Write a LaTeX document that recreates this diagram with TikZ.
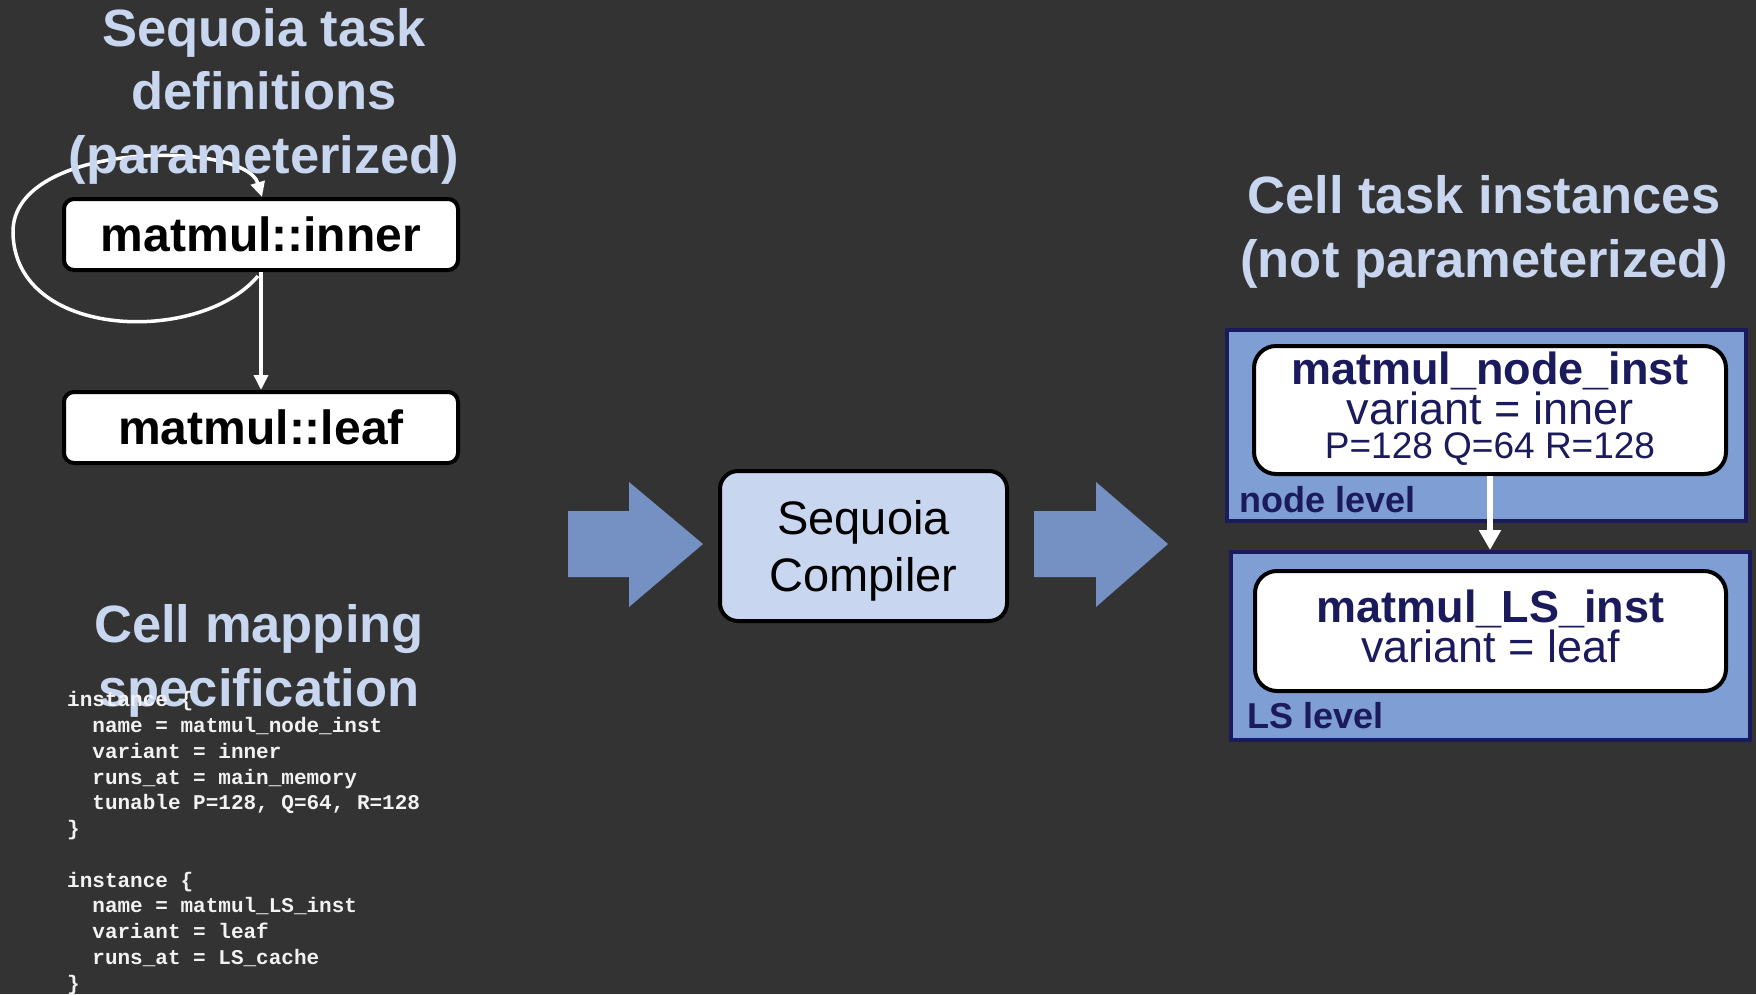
\documentclass[tikz,border=0pt]{standalone}
\usepackage{fontspec}
\setmainfont{Liberation Sans}
\setmonofont{Liberation Mono}
\usetikzlibrary{arrows.meta}
\definecolor{bg}{HTML}{333333}
\definecolor{ttl}{HTML}{C9D6F0}
\definecolor{barrow}{HTML}{7591C3}
\definecolor{lvl}{HTML}{7F9ED4}
\definecolor{navy}{HTML}{1A1A5C}
\definecolor{cmp}{HTML}{C8D6F0}
\definecolor{codec}{HTML}{F2F2F2}
\begin{document}
\begin{tikzpicture}[x=1pt,y=-1pt,
  titletext/.style={font=\fontsize{52.5}{63.5}\selectfont\bfseries, text=ttl, align=center, inner sep=0pt},
  defbox/.style={draw=black, line width=4pt, fill=white, rounded corners=10pt,
    minimum width=394pt, minimum height=71pt, inner sep=0pt,
    font=\fontsize{48}{58}\selectfont\bfseries, text=black},
  compbox/.style={draw=black, line width=4pt, fill=cmp, rounded corners=18pt,
    minimum width=287pt, minimum height=150pt, inner sep=0pt, align=center,
    font=\fontsize{47}{57}\selectfont, text=black, text depth=1pt},
  lvlbox/.style={draw=navy, line width=4pt, fill=lvl, inner sep=0pt},
  instbox/.style={draw=black, line width=4pt, fill=white, rounded corners=22pt,
    inner sep=0pt, align=center, text=navy, font=\fontsize{45}{40}\selectfont, text depth=9pt},
  lvltext/.style={font=\fontsize{36}{40}\selectfont\bfseries, text=navy, inner sep=0pt, anchor=base west},
  codetext/.style={font=\fontsize{21}{25.75}\selectfont\ttfamily\bfseries, text=codec, align=left, inner sep=0pt, anchor=base west},
  blockarrow/.style={fill=barrow},
  wthin/.style={draw=white, line width=3.5pt, -{Triangle[width=14pt,length=15pt]}},
  wthick/.style={draw=white, line width=6pt, -{Triangle[width=21pt,length=20pt]}}
]
\fill[bg] (0,0) rectangle (1756,994);
\useasboundingbox (0,0) rectangle (1756,994);

% left: task definitions
\node[defbox] (inner) at (261,234.5) {matmul::inner};
\node[defbox] (leaf) at (261,427.5) {matmul::leaf};
\draw[wthin] (inner.south) -- (leaf.north);
\coordinate (loopstart) at (258,276);
\draw[wthin] (loopstart) .. controls (200,345) and (15,340) .. (13,233)
  .. controls (11,140) and (245,140) .. ([xshift=1pt]inner.north);
\node[titletext, anchor=base] (t1) at (264,173) {Sequoia task\\definitions\\(parameterized)};

% left: mapping specification
\node[titletext, anchor=base] (t2) at (259,706) {Cell mapping\\specification};
\node[codetext] (code) at (67,990) {instance \{\\
\phantom{xx}name = matmul\_node\_inst\\
\phantom{xx}variant = inner\\
\phantom{xx}runs\_at = main\_memory\\
\phantom{xx}tunable P=128, Q=64, R=128\\
\}\\
\mbox{}\\
instance \{\\
\phantom{xx}name = matmul\_LS\_inst\\
\phantom{xx}variant = leaf\\
\phantom{xx}runs\_at = LS\_cache\\
\}};

% middle
\fill[blockarrow] (568,511) -- (629,511) -- (629,482) -- (703,544) -- (629,607) -- (629,577) -- (568,577) -- cycle;
\node[compbox] (comp) at (863.5,546) {Sequoia\\Compiler};
\fill[blockarrow] (1034,511) -- (1096,511) -- (1096,482) -- (1168,544) -- (1096,607) -- (1096,577) -- (1034,577) -- cycle;

% right
\node[titletext, anchor=base] (t3) at (1484,277) {Cell task instances\\(not parameterized)};
\node[lvlbox, minimum width=519pt, minimum height=191pt] (nl) at (1486.5,425.5) {};
\node[lvlbox, minimum width=519pt, minimum height=188pt] (lsl) at (1490.5,646) {};
\node[instbox, minimum width=472pt, minimum height=128pt] (ni) at (1490,410)
  {\bfseries matmul\_node\_inst\\variant = inner\\[-6pt]{\fontsize{37}{35}\selectfont P=128 Q=64 R=128}};
\node[instbox, minimum width=471pt, minimum height=120pt] (li) at (1490.5,631)
  {\bfseries matmul\_LS\_inst\\variant = leaf};
\node[lvltext] (nlt) at (1239,512) {node level};
\node[lvltext] (lslt) at (1247,728) {LS level};
\draw[wthick] (ni.south) -- (ni.south |- lsl.north);
\end{tikzpicture}
\end{document}
